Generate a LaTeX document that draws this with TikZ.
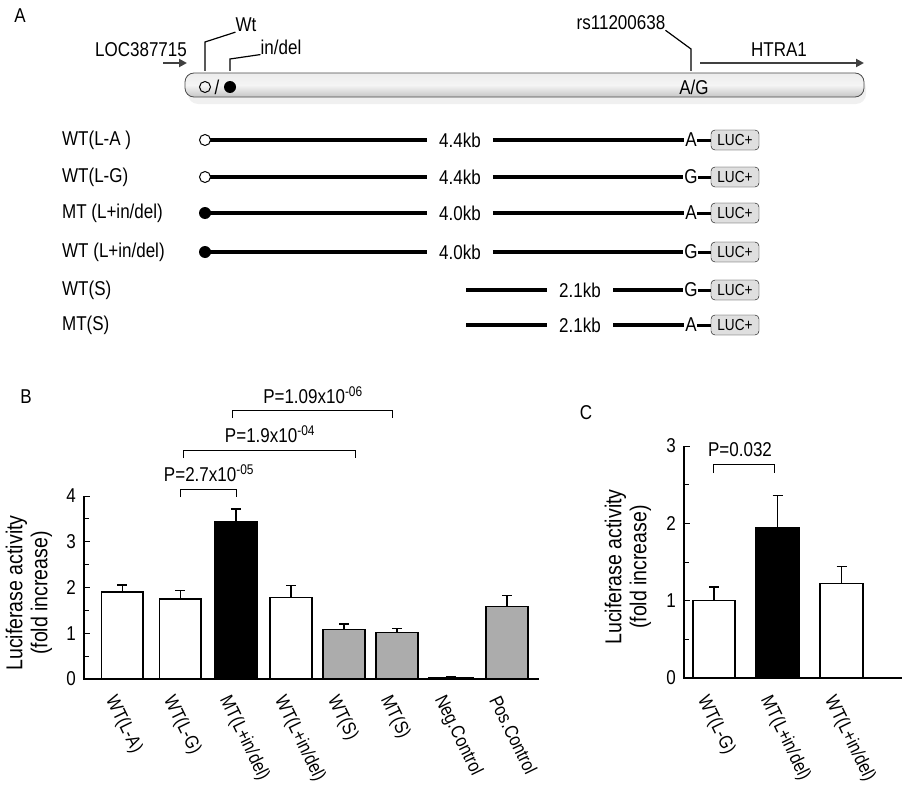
\documentclass[tikz,border=0pt]{standalone}
\usepackage{fontspec}
\setmainfont{Liberation Sans}[FakeStretch=0.85]
\usetikzlibrary{positioning,arrows.meta}
\tikzset{
  txt/.style={inner sep=0pt,font=\fontsize{20}{23}\selectfont},
  ylab/.style={inner sep=0pt,rotate=90,align=center,font=\fontsize{23}{25}\selectfont},
  luc/.style={draw,rounded corners=4pt,fill=gray!25,minimum width=48pt,minimum height=20pt,inner sep=1pt,font=\fontsize{16}{16}\selectfont},
  frag/.style={line width=3.5pt},
  bar/.style={draw,line width=1.2pt},
  err/.style={line width=1.5pt},
  brk/.style={line width=1pt},
  xlab/.style={inner sep=0pt,anchor=west,rotate=-64,font=\fontsize{19}{20}\selectfont},
  gene/.style={-{Triangle[length=8pt,width=8pt]},line width=2.5pt,draw=black!75}
}
\begin{document}
\begin{tikzpicture}[x=1pt,y=-1pt]
\useasboundingbox (0,0) rectangle (905,800);
% panel A
\node[txt] (lA) at (20,16) {A};
\fill[gray!30,opacity=0.4,rounded corners=10pt] (188,78) rectangle (866,104);
\shade[top color=gray!15,bottom color=gray!45,middle color=gray!8,rounded corners=9pt,draw=black!70,line width=0.8pt] (185,73) rectangle (864,97);
\node[txt] (wt) at (246,25) {Wt};
\node[txt] (indel) at (281,47) {in/del};
\node[txt] (loc) at (141,50) {LOC387715};
\node[txt] (rs) at (621,23) {rs11200638};
\node[txt] (htra) at (779,50) {HTRA1};
\node[txt] (ag) at (694,87) {A/G};
\node[txt] (slash) at (217,87) {/};
\node[circle,draw,line width=1pt,inner sep=0pt,minimum size=11pt] (oc) at (205,87) {};
\node[circle,fill,inner sep=0pt,minimum size=12pt] (fc) at (230,87) {};
\coordinate (wtA) at (205,71);
\coordinate (idA) at (230,71);
\coordinate (rsA) at (691,71);
\draw[line width=1.2pt] (wtA) -- (205,42) -- (wt.south west);
\draw[line width=1.2pt] (idA) -- (230,59) -- (indel.south west);
\draw[line width=1.2pt] (rsA) -- (691,49) -- (rs.south east);
\coordinate (locS) at (163,63);
\coordinate (locE) at (187,63);
\coordinate (htS) at (700,63);
\coordinate (htE) at (864,63);
\draw[gene] (locS) -- (locE);
\draw[gene] (htS) -- (htE);
% constructs
\foreach \y/\lab/\kb/\circ/\snp/\x/\kx in {140/{WT(L-A )}/4.4kb/o/A/205/460, 177/{WT(L-G)}/4.4kb/o/G/205/460,
  213/{MT (L+in/del)}/4.0kb/f/A/205/460, 252/{WT (L+in/del)}/4.0kb/f/G/205/460,
  290/{WT(S)}/2.1kb/n/G/466/580, 325/{MT(S)}/2.1kb/n/A/466/580}{
  \node[txt,anchor=west] (r\y) at (62,\y) {\lab};
  \node[txt] (kb\y) at (\kx,\y) {\kb};
  \node[txt] (s\y) at (691,\y) {\snp};
  \node[luc] (luc\y) at (735,\y) {LUC+};
  \draw[frag] (\x,\y) -- ([xshift=-12pt]kb\y.west);
  \draw[frag] ([xshift=12pt]kb\y.east) -- ([xshift=-1pt]s\y.west);
  \draw[line width=3pt] (s\y.east) -- (luc\y.west);
  \if o\circ \node[circle,draw,fill=white,line width=1pt,inner sep=0pt,minimum size=11pt] at (205,\y) {};\fi
  \if f\circ \node[circle,fill,inner sep=0pt,minimum size=12pt] at (205,\y) {};\fi
}
% panel B
\node[txt] (lB) at (26,397) {B};
\draw[line width=1.2pt] (84,496) -- (84,679) -- (539,679);
\foreach \v in {0,1,2,3,4}{
  \node[txt,anchor=east] (tb\v) at (76,{679-45.75*\v}) {\v};
  \draw[line width=1pt] (84,{679-45.75*\v}) -- (90,{679-45.75*\v});
}
\foreach \v in {0.5,1.5,2.5,3.5}
  \draw[line width=1pt] (84,{679-45.75*\v}) -- (89,{679-45.75*\v});
\foreach \a/\b/\v/\e/\c in {101.5/143/1.9/0.15/white, 159.5/201/1.75/0.18/white,
  214.6/257/3.45/0.27/black, 270/312/1.78/0.26/white, 323/365/1.08/0.12/gray!65,
  376/418/1.02/0.08/gray!65, 429/473/0.03/0.01/black, 486/528/1.58/0.25/gray!65}{
  \draw[bar,fill=\c] (\a,679) rectangle (\b,{679-45.75*\v});
  \draw[err] ({(\a+\b)/2},{679-45.75*\v}) -- ({(\a+\b)/2},{679-45.75*(\v+\e)})
    ++(-5,0) -- ++(10,0);
}
\node[ylab] (yB) at (29,593) {Luciferase activity\\(fold increase)};
\foreach \xx/\lab in {122/{WT(L-A)}, 180/{WT(L-G)}, 236/{MT(L+in/del)}, 291/{WT(L+in/del)},
  344/{WT(S)}, 397/{MT(S)}, 451/{Neg.Control}, 507/{Pos.Control}}
  \node[xlab] at (\xx-12,697) {\lab};
\draw[brk] (180,497) -- (180,489) -- (236,489) -- (236,497);
\node[txt] (p1) at (209,473) {P=2.7x10\textsuperscript{-05}};
\draw[brk] (183,458) -- (183,450) -- (355,450) -- (355,458);
\node[txt] (p2) at (270,434) {P=1.9x10\textsuperscript{-04}};
\draw[brk] (232,418) -- (232,410) -- (392,410) -- (392,418);
\node[txt] (p3) at (313,395) {P=1.09x10\textsuperscript{-06}};
% panel C
\node[txt] (lC) at (586,413) {C};
\draw[line width=1.2pt] (684,446) -- (684,678) -- (902,678);
\foreach \v in {0,1,2,3}{
  \node[txt,anchor=east] (tc\v) at (676,{678-77.3*\v}) {\v};
  \draw[line width=1pt] (684,{678-77.3*\v}) -- (690,{678-77.3*\v});
}
\foreach \v in {0.5,1.5,2.5}
  \draw[line width=1pt] (684,{678-77.3*\v}) -- (689,{678-77.3*\v});
\foreach \a/\b/\v/\e/\c in {693/735/1.0/0.18/white, 756/799/1.95/0.41/black, 820/863/1.22/0.22/white}{
  \draw[bar,fill=\c] (\a,678) rectangle (\b,{678-77.3*\v});
  \draw[err] ({(\a+\b)/2},{678-77.3*\v}) -- ({(\a+\b)/2},{678-77.3*(\v+\e)})
    ++(-5,0) -- ++(10,0);
}
\node[ylab] (yC) at (628,567) {Luciferase activity\\(fold increase)};
\foreach \xx/\lab in {714/{WT(L-G)}, 777/{MT(L+in/del)}, 841/{WT(L+in/del)}}
  \node[xlab] at (\xx-12,697) {\lab};
\draw[brk] (713,473) -- (713,464) -- (774,464) -- (774,473);
\node[txt] (p4) at (740,450) {P=0.032};
\end{tikzpicture}
\end{document}
